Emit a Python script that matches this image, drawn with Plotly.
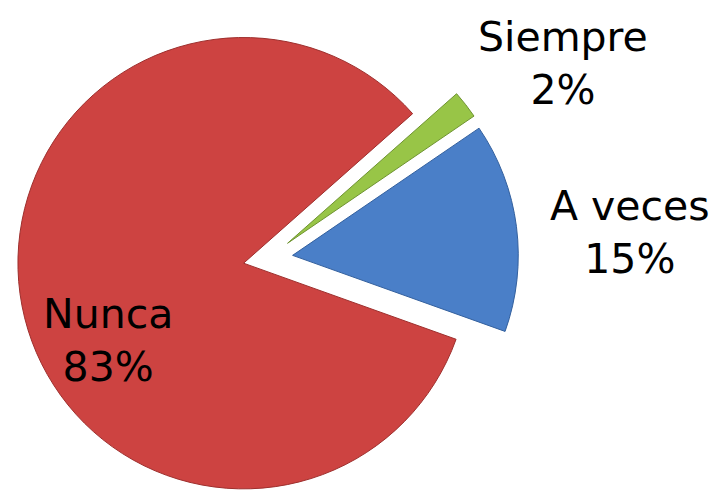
import plotly.graph_objects as go

labels = ["Siempre", "A veces", "Nunca"]
values = [2, 15, 83]
colors = ["#98C547", "#4A7FC8", "#CD4341"]
line_colors = ["#6E9330", "#33609E", "#9E2F2D"]
pulls = [0.11, 0.11, 0.11]

# label centres in paper coords (positions only)
label_pos = {"Siempre": (0.774, 0.890), "A veces": (0.868, 0.551), "Nunca": (0.139, 0.337)}

fig = go.Figure()
fig.add_trace(go.Pie(
    labels=labels, values=values, sort=False, direction="clockwise",
    rotation=48.5, pull=pulls,
    marker=dict(colors=colors, line=dict(color=line_colors, width=1)),
    textinfo="none", hoverinfo="label+percent", showlegend=False,
    domain=dict(x=[0, 0.7252], y=[0, 1]),
))

for lab, v in zip(labels, values):
    x, y = label_pos[lab]
    fig.add_annotation(x=x, y=y, xref="paper", yref="paper", xanchor="center", yanchor="middle",
                       text=f"{lab}<br>{v}%", showarrow=False, align="center",
                       font=dict(family="DejaVu Sans, Verdana, sans-serif", size=41, color="#000000"))

fig.update_layout(width=717, height=501, margin=dict(l=0, r=0, t=0, b=0),
                  paper_bgcolor="white", plot_bgcolor="white")
fig.write_html("out.html")
